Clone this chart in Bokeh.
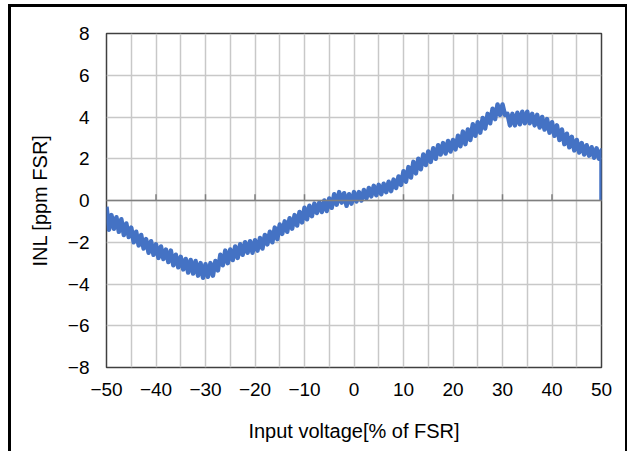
from bokeh.plotting import figure
from bokeh.models import Span, FixedTicker, CustomJSTickFormatter
from bokeh.embed import file_html
from bokeh.resources import INLINE

# ---- data ----
x_pct = [i / 2 for i in range(-100, 101)] + [50]
inl_ppm = [
    -0.3, -1.4, -0.7, -1.35, -0.8, -1.5, -0.9, -1.65, -1.1, -1.75,
    -1.3, -2.0, -1.5, -2.15, -1.65, -2.3, -1.85, -2.5, -1.95, -2.6,
    -2.1, -2.75, -2.2, -2.8, -2.35, -2.95, -2.4, -3.1, -2.6, -3.2,
    -2.7, -3.3, -2.8, -3.45, -2.85, -3.5, -2.9, -3.6, -3.0, -3.7,
    -3.05, -3.65, -3.0, -3.6, -2.9, -3.35, -2.6, -3.1, -2.4, -3.0,
    -2.35, -2.85, -2.2, -2.75, -2.1, -2.6, -2.0, -2.5, -1.95, -2.5,
    -1.9, -2.4, -1.8, -2.3, -1.65, -2.1, -1.5, -2.0, -1.3, -1.85,
    -1.15, -1.6, -1.0, -1.5, -0.85, -1.35, -0.7, -1.2, -0.55, -1.05,
    -0.35, -0.9, -0.25, -0.75, -0.15, -0.6, -0.1, -0.55, 0.0, -0.5,
    0.1, -0.35, 0.3, -0.2, 0.4, -0.1, 0.35, -0.25, 0.3, -0.15,
    0.4, -0.05, 0.4, 0.0, 0.5, 0.1, 0.6, 0.2, 0.7, 0.25,
    0.75, 0.3, 0.8, 0.4, 0.9, 0.45, 1.0, 0.6, 1.15, 0.75,
    1.4, 0.9, 1.6, 1.1, 1.85, 1.3, 2.0, 1.5, 2.2, 1.7,
    2.35, 1.85, 2.5, 2.0, 2.65, 2.2, 2.75, 2.25, 2.85, 2.35,
    2.9, 2.45, 3.1, 2.6, 3.3, 2.7, 3.4, 2.9, 3.65, 3.1,
    3.75, 3.25, 3.95, 3.45, 4.15, 3.7, 4.4, 3.9, 4.6, 4.1,
    4.6, 4.1, 4.15, 3.6, 4.15, 3.6, 4.2, 3.65, 4.25, 3.7,
    4.25, 3.7, 4.15, 3.6, 4.1, 3.5, 4.0, 3.4, 3.9, 3.25,
    3.75, 3.1, 3.6, 2.9, 3.4, 2.7, 3.2, 2.55, 3.05, 2.4,
    2.9, 2.3, 2.75, 2.2, 2.65, 2.15, 2.55, 2.05, 2.5, 2.0,
    2.4, 0.0,
]
x_ticks = [-50, -40, -30, -20, -10, 0, 10, 20, 30, 40, 50]
y_ticks = [-8, -6, -4, -2, 0, 2, 4, 6, 8]
x_grid = list(range(-50, 51, 5))
x_label = "Input voltage[% of FSR]"
y_label = "INL [ppm FSR]"

FONT = "Liberation Sans"

p = figure(width=619, height=447, output_backend="svg", toolbar_location=None,
           x_range=(-50, 50), y_range=(-8, 8),
           min_border_left=95, min_border_right=29, min_border_top=26, min_border_bottom=87)
p.styles = {"border-left": "3px solid black", "border-top": "3px solid black",
            "border-right": "2px solid black",
            "margin-top": "4px", "margin-left": "8px"}

p.background_fill_color = "white"
p.border_fill_color = "white"
p.outline_line_color = "#404040"
p.outline_line_width = 1.5

# grids
p.xgrid.ticker = FixedTicker(ticks=x_grid)
p.ygrid.ticker = FixedTicker(ticks=y_ticks)
for g in (p.xgrid, p.ygrid):
    g.grid_line_color = "#c8c8c8"
    g.grid_line_width = 1.5

fmt = CustomJSTickFormatter(code="return tick < 0 ? '\u2212' + Math.abs(tick) : '' + tick;")

# x axis (labels at bottom)
xa = p.xaxis[0]
xa.ticker = FixedTicker(ticks=x_ticks)
xa.formatter = fmt
xa.axis_line_color = None
xa.major_tick_line_color = None
xa.minor_tick_line_color = None
xa.major_label_standoff = 9
xa.major_label_text_font = FONT
xa.major_label_text_font_size = "19px"
xa.major_label_text_color = "black"
xa.axis_label = x_label
xa.axis_label_text_font = FONT
xa.axis_label_text_font_size = "20px"
xa.axis_label_text_font_style = "normal"
xa.axis_label_text_color = "black"
xa.axis_label_standoff = 21

ya = p.yaxis[0]
ya.ticker = FixedTicker(ticks=y_ticks)
ya.formatter = fmt
ya.axis_line_color = None
ya.major_tick_line_color = None
ya.minor_tick_line_color = None
ya.major_label_standoff = 11
ya.major_label_text_font = FONT
ya.major_label_text_font_size = "19px"
ya.major_label_text_color = "black"
ya.axis_label = y_label
ya.axis_label_text_font = FONT
ya.axis_label_text_font_size = "20px"
ya.axis_label_text_font_style = "normal"
ya.axis_label_text_color = "black"
ya.axis_label_standoff = 14

# zero axis line with upward tick marks
p.add_layout(Span(location=0, dimension="width", line_color="#7f7f7f", line_width=1.5))
inner_ticks = [t for t in x_ticks if t not in (-50, 0, 50)]
p.segment(x0=inner_ticks, x1=inner_ticks, y0=[0] * len(inner_ticks), y1=[0.3] * len(inner_ticks),
          line_color="#7f7f7f", line_width=1.5)

# curve
p.line(x_pct, inl_ppm, line_color="#4472C4", line_width=4.5, line_join="round")

open("out.html", "w").write(file_html(p, INLINE))
